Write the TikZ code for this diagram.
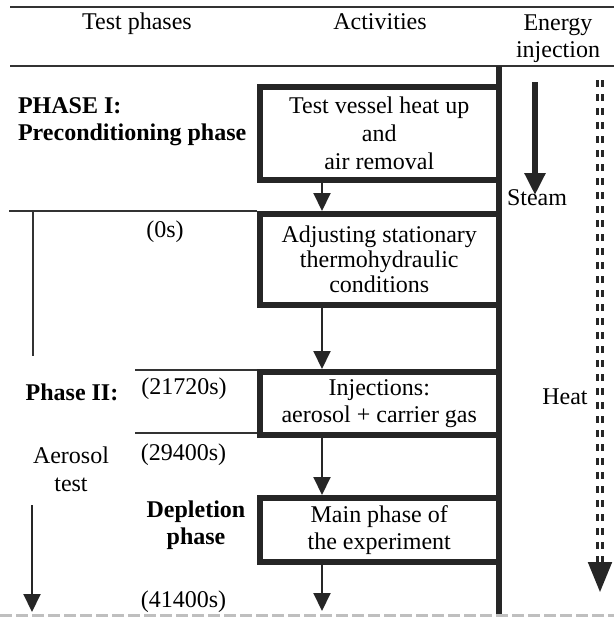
\documentclass[tikz,border=0pt]{standalone}
\usepackage{fontspec}
\setmainfont{Liberation Serif}
\usetikzlibrary{arrows.meta}

\begin{document}
\begin{tikzpicture}[x=0.5pt,y=-0.5pt,>={Triangle[length=9pt,width=8.5pt]},
  every node/.style={font=\fontsize{12}{13.5}\selectfont},
  boldlbl/.style={font=\fontsize{12}{13.5}\selectfont\bfseries},
  actbox/.style={draw=black!85,line width=3pt,minimum width=119.75pt,inner sep=0pt,align=center},
  rule/.style={line width=1pt,black!80},
  flow/.style={->,line width=1pt,black!85},
  heatdash/.style={line width=1.5pt,double distance=1pt,dash pattern=on 3.5pt off 3.5pt,draw=black!85}]
\useasboundingbox (0,0) rectangle (614,617);

% Header
\draw[rule] (10,7) -- (614,7);
\node (hdphases) at (137,24) {Test phases};
\node (hdactivities) at (380,22) {Activities};
\node[align=center] (hdenergy) at (558,38.5) {Energy\\injection};
\draw[rule] (10,66) -- (614,66);
\draw[line width=3pt,black!85] (499,66) -- (499,617);

% Activities
\node[actbox,minimum height=46.5pt,font=\fontsize{12}{14}\selectfont] (heatup) at (379.25,133.5) {Test vessel heat up\\and\\air removal};
\node[actbox,minimum height=45.5pt,font=\fontsize{12}{12.5}\selectfont] (adjust) at (379.25,259.5) {Adjusting stationary\\thermohydraulic\\conditions};
\node[actbox,minimum height=31.5pt] (inject) at (379.25,403.5) {Injections:\\aerosol + carrier gas};
\node[actbox,minimum height=32pt] (mainphase) at (379.25,530) {Main phase of\\the experiment};

\coordinate (ax) at (322,0);
\coordinate (mainend) at (322,611);
\draw[flow] (heatup.south -| ax) -- (adjust.north -| ax);
\draw[flow] (adjust.south -| ax) -- (inject.north -| ax);
\draw[flow] (inject.south -| ax) -- (mainphase.north -| ax);
\draw[flow] (mainphase.south -| ax) -- (mainend);

% Test phases
\node[boldlbl,align=left,anchor=west] (phaseone) at (11,121.5) {PHASE I:\\Preconditioning phase};
\coordinate (divone) at (9,211);
\draw[rule] (divone) -- (adjust.north west);
\coordinate (lefttop) at (33,211);
\coordinate (leftmid) at (33,356);
\draw[rule] (lefttop) -- (leftmid);
\node (tzero) at (165,232) {(0s)};

\coordinate (injtop) at (135,370);
\coordinate (injbot) at (135,433);
\draw[rule] (injtop) -- (injtop -| inject.west);
\draw[rule] (injbot) -- (injbot -| inject.west);
\node[boldlbl] (phasetwo) at (72,392) {Phase II:};
\node (tinject) at (184,389) {(21720s)};
\node (tstop) at (183.5,455) {(29400s)};
\node[align=center,font=\fontsize{12}{14}\selectfont] (aerosol) at (71,469) {Aerosol\\test};
\node[boldlbl,align=center] (depletion) at (196,525) {Depletion\\phase};
\node (tend) at (183.5,602) {(41400s)};

\coordinate (leftgo) at (32,505);
\coordinate (leftend) at (32,612);
\draw[flow] (leftgo) -- (leftend);

% Energy injection
\coordinate (steamtop) at (535,82);
\coordinate (steamtip) at (535,195);
\draw[line width=3pt,black!85,-{Triangle[length=11pt,width=10pt]}] (steamtop) -- (steamtip);
\node (steam) at (537,198) {Steam};

\coordinate (heattop) at (600,80);
\coordinate (heatbase) at (600,562);
\coordinate (heattip) at (600,592);
\draw[heatdash] (heattop) -- (heatbase);
\draw[line width=1pt,black!85,-{Triangle[length=15pt,width=12pt]}] (heatbase) -- (heattip);
\node (heat) at (565,397) {Heat};

% Bottom edge
\draw[gray!50,line width=1.5pt,dash pattern=on 6pt off 2pt] (0,615) -- (614,615);
\end{tikzpicture}
\end{document}
